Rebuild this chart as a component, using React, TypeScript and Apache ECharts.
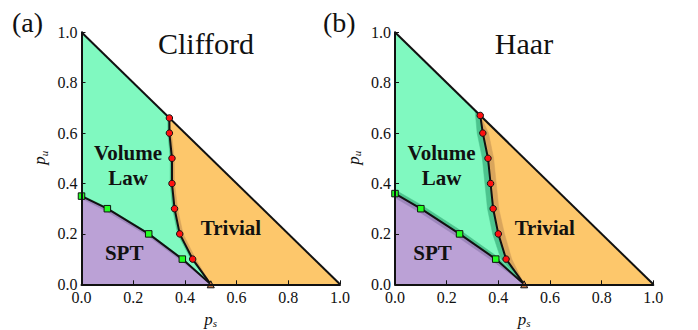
import React, { useEffect, useRef } from "react";
import * as echarts from "echarts";

// ---- panel text ----
const panelTitles = ["Clifford", "Haar"];
const panelTags = ["(a)", "(b)"];
const phaseNames = ["Volume\nLaw", "SPT", "Trivial"];

// ---- axis ticks (shared by both panels) ----
const tickMin = 0;
const tickMax = 1;
const tickStep = 0.2;
const tickValues = [0, 0.2, 0.4, 0.6, 0.8, 1.0];

// ---- Clifford: volume-law / trivial transition (red circles) ----
const cliffTransPs = [0.34, 0.34, 0.35, 0.35, 0.36, 0.38, 0.43];
const cliffTransPu = [0.66, 0.6, 0.5, 0.4, 0.3, 0.2, 0.1];
// uncertainty band edges around that transition
const cliffTransLeftPs = [0.334, 0.334, 0.343, 0.343, 0.352, 0.372, 0.423];
const cliffTransLeftPu = [0.666, 0.6, 0.5, 0.4, 0.3, 0.2, 0.1];
const cliffTransRightPs = [0.34, 0.348, 0.359, 0.36, 0.372, 0.393, 0.442];
const cliffTransRightPu = [0.66, 0.6, 0.5, 0.4, 0.3, 0.2, 0.1];
// ---- Clifford: volume-law / SPT transition (green squares) ----
const cliffSptPs = [0.0, 0.1, 0.26, 0.39];
const cliffSptPu = [0.35, 0.3, 0.2, 0.1];
const cliffSptUpperPu = [0.354, 0.304, 0.204, 0.104];
const cliffSptLowerPu = [0.34, 0.288, 0.19, 0.09];

// ---- Haar: volume-law / trivial transition ----
const haarTransPs = [0.33, 0.34, 0.36, 0.37, 0.38, 0.4, 0.43];
const haarTransPu = [0.67, 0.6, 0.5, 0.4, 0.3, 0.2, 0.1];
const haarTransLeftPs = [0.31, 0.318, 0.338, 0.348, 0.358, 0.378, 0.41];
const haarTransLeftPu = [0.69, 0.6, 0.5, 0.4, 0.3, 0.2, 0.1];
const haarTransRightPs = [0.33, 0.362, 0.382, 0.392, 0.402, 0.424, 0.452];
const haarTransRightPu = [0.67, 0.6, 0.5, 0.4, 0.3, 0.2, 0.1];
// ---- Haar: volume-law / SPT transition ----
const haarSptPs = [0.0, 0.1, 0.25, 0.39];
const haarSptPu = [0.36, 0.3, 0.2, 0.1];
const haarSptUpperPu = [0.375, 0.316, 0.216, 0.114];
const haarSptLowerPu = [0.343, 0.283, 0.183, 0.084];

// ---- shared corners of the physical triangle p_s + p_u <= 1 ----
const criticalPoint: [number, number] = [0.5, 0];
const cornerTop: [number, number] = [0, 1];
const cornerRight: [number, number] = [1, 0];
const cornerOrigin: [number, number] = [0, 0];

// phase-label anchor points [p_s, p_u] per panel
const labelPosA = [[0.18, 0.47], [0.165, 0.124], [0.578, 0.223]];
const labelPosB = [[0.18, 0.47], [0.145, 0.124], [0.58, 0.223]];

const COLORS = {
  volume: "#80f9c0",
  trivial: "#fdc76b",
  spt: "#bba1d6",
  volumeDark: "#4cc48e",
  trivialDark: "#d9a55c",
  sptDark: "#9c86bb",
  red: "#ff1010",
  green: "#22ff22",
  brown: "#c97a4a",
  ink: "#111111",
};

const SERIF = "'Liberation Serif', 'DejaVu Serif', serif";

type Pt = [number, number];
const zip = (xs: number[], ys: number[]): Pt[] => xs.map((x, i) => [x, ys[i]] as Pt);

function polygon(idx: number, pts: Pt[], color: string, z: number) {
  return {
    type: "custom",
    xAxisIndex: idx,
    yAxisIndex: idx,
    z,
    silent: true,
    clip: false,
    data: [[0, 0]],
    renderItem: (_p: any, api: any) => ({
      type: "polygon",
      shape: { points: pts.map((p) => api.coord(p)) },
      style: { fill: color, stroke: color, lineWidth: 0.5 },
    }),
  };
}

function line(idx: number, pts: Pt[], z: number) {
  return {
    type: "line",
    xAxisIndex: idx,
    yAxisIndex: idx,
    z,
    silent: true,
    showSymbol: false,
    symbol: "none",
    data: pts,
    lineStyle: { color: COLORS.ink, width: 2 },
  };
}

function markers(idx: number, pts: Pt[], symbol: string, color: string, size: number, z: number) {
  return {
    type: "scatter",
    xAxisIndex: idx,
    yAxisIndex: idx,
    z,
    silent: true,
    clip: false,
    symbol,
    symbolSize: size,
    data: pts,
    itemStyle: { color, borderColor: COLORS.ink, borderWidth: 1, opacity: 1 },
  };
}

// phase names drawn as text elements at data coordinates
function phaseLabels(idx: number, labelPos: number[][]) {
  return {
    type: "custom",
    xAxisIndex: idx,
    yAxisIndex: idx,
    z: 5,
    silent: true,
    clip: false,
    data: labelPos,
    renderItem: (params: any, api: any) => {
      const c = api.coord([api.value(0), api.value(1)]);
      return {
        type: "text",
        x: c[0],
        y: c[1],
        style: {
          text: phaseNames[params.dataIndex],
          font: `bold 21px ${SERIF}`,
          lineHeight: 25,
          fill: COLORS.ink,
          align: "center",
          verticalAlign: "middle",
        },
      };
    },
  };
}

// tick labels placed at the axis scale positions of tickValues
function tickLabels(idx: number, dim: "x" | "y") {
  return {
    type: "custom",
    xAxisIndex: idx,
    yAxisIndex: idx,
    z: 11,
    silent: true,
    clip: false,
    data: tickValues.map((v) => (dim === "x" ? [v, tickMin] : [tickMin, v])),
    renderItem: (params: any, api: any) => {
      const c = api.coord([api.value(0), api.value(1)]);
      return {
        type: "text",
        x: dim === "x" ? c[0] : c[0] - 4,
        y: dim === "x" ? c[1] + 13 : c[1],
        style: {
          text: tickValues[params.dataIndex].toFixed(1),
          font: `16px ${SERIF}`,
          fill: COLORS.ink,
          align: dim === "x" ? "center" : "right",
          verticalAlign: "middle",
        },
      };
    },
  };
}

// italic axis symbol with a subscript, e.g. p_s
function axisTitle(idx: number, dim: "x" | "y", sub: string) {
  return {
    type: "custom",
    xAxisIndex: idx,
    yAxisIndex: idx,
    z: 11,
    silent: true,
    clip: false,
    data: [dim === "x" ? [(tickMin + tickMax) / 2, tickMin] : [tickMin, (tickMin + tickMax) / 2]],
    renderItem: (_p: any, api: any) => {
      const c = api.coord([api.value(0), api.value(1)]);
      return {
        type: "group",
        x: dim === "x" ? c[0] : c[0] - 42,
        y: dim === "x" ? c[1] + 35 : c[1],
        rotation: dim === "x" ? 0 : Math.PI / 2,
        children: [
          {
            type: "text",
            x: -6.5,
            y: 0,
            style: { text: "p", font: `italic 17px ${SERIF}`, fill: COLORS.ink, align: "left", verticalAlign: "middle" },
          },
          {
            type: "text",
            x: 2,
            y: 4,
            style: { text: sub, font: `italic 11px ${SERIF}`, fill: COLORS.ink, align: "left", verticalAlign: "middle" },
          },
        ],
      };
    },
  };
}

function panelSeries(
  idx: number,
  trans: Pt[],
  transLeft: Pt[],
  transRight: Pt[],
  spt: Pt[],
  sptUpper: Pt[],
  sptLower: Pt[],
  labelPos: number[][]
) {
  const transFull = [...trans, criticalPoint];
  const sptFull = [...spt, criticalPoint];
  const volume = [cornerTop, ...transFull, ...[...spt].reverse()];
  const trivial = [trans[0], cornerRight, ...[...transFull].reverse()];
  const sptRegion = [...sptFull, cornerOrigin];
  return [
    polygon(idx, volume, COLORS.volume, 1),
    polygon(idx, trivial, COLORS.trivial, 1),
    polygon(idx, sptRegion, COLORS.spt, 1),
    polygon(idx, [...transFull, ...[...transLeft].reverse()], COLORS.volumeDark, 2),
    polygon(idx, [...transFull, ...[...transRight].reverse()], COLORS.trivialDark, 2),
    polygon(idx, [...sptFull, ...[...sptUpper].reverse()], COLORS.volumeDark, 2),
    polygon(idx, [...sptFull, ...[...sptLower].reverse()], COLORS.sptDark, 2),
    line(idx, [cornerTop, cornerRight], 3),
    line(idx, transFull, 3),
    line(idx, sptFull, 3),
    markers(idx, trans, "circle", COLORS.red, 6.5, 4),
    markers(idx, spt, "rect", COLORS.green, 6.5, 4),
    markers(idx, [criticalPoint], "triangle", COLORS.brown, 7, 4),
    phaseLabels(idx, labelPos),
    tickLabels(idx, "x"),
    tickLabels(idx, "y"),
    axisTitle(idx, "x", "s"),
    axisTitle(idx, "y", "u"),
  ];
}

function valueAxis(idx: number) {
  return {
    type: "value",
    gridIndex: idx,
    min: tickMin,
    max: tickMax,
    interval: tickStep,
    z: 10,
    axisLine: { show: true, onZero: false, lineStyle: { color: COLORS.ink, width: 2 } },
    axisTick: { show: true, inside: true, length: 4, lineStyle: { color: COLORS.ink, width: 1 } },
    splitLine: { show: false },
    axisLabel: { show: false },
  };
}

export default function App() {
  const ref = useRef<HTMLDivElement>(null);
  useEffect(() => {
    if (!ref.current) return;
    const chart = echarts.init(ref.current, undefined, { renderer: "svg" });
    chart.setOption({
      animation: false,
      backgroundColor: "#ffffff",
      grid: [
        { left: 81.5, top: 32.3, width: 258.5, height: 252, outerBoundsMode: "none", containLabel: false },
        { left: 395, top: 32.3, width: 258.3, height: 252, outerBoundsMode: "none", containLabel: false },
      ],
      xAxis: [valueAxis(0), valueAxis(1)],
      yAxis: [valueAxis(0), valueAxis(1)],
      graphic: [
        {
          type: "text", x: 12, y: 22,
          style: { text: panelTags[0], font: `28px ${SERIF}`, fill: COLORS.ink, textVerticalAlign: "middle" },
        },
        {
          type: "text", x: 323, y: 22,
          style: { text: panelTags[1], font: `28px ${SERIF}`, fill: COLORS.ink, textVerticalAlign: "middle" },
        },
        {
          type: "text", x: 206, y: 43,
          style: { text: panelTitles[0], font: `30px ${SERIF}`, fill: COLORS.ink, textAlign: "center", textVerticalAlign: "middle" },
        },
        {
          type: "text", x: 524, y: 43,
          style: { text: panelTitles[1], font: `30px ${SERIF}`, fill: COLORS.ink, textAlign: "center", textVerticalAlign: "middle" },
        },
      ],
      series: [
        ...panelSeries(
          0,
          zip(cliffTransPs, cliffTransPu),
          zip(cliffTransLeftPs, cliffTransLeftPu),
          zip(cliffTransRightPs, cliffTransRightPu),
          zip(cliffSptPs, cliffSptPu),
          zip(cliffSptPs, cliffSptUpperPu),
          zip(cliffSptPs, cliffSptLowerPu),
          labelPosA
        ),
        ...panelSeries(
          1,
          zip(haarTransPs, haarTransPu),
          zip(haarTransLeftPs, haarTransLeftPu),
          zip(haarTransRightPs, haarTransRightPu),
          zip(haarSptPs, haarSptPu),
          zip(haarSptPs, haarSptUpperPu),
          zip(haarSptPs, haarSptLowerPu),
          labelPosB
        ),
      ],
    });
    return () => chart.dispose();
  }, []);
  return (
    <div
      ref={ref}
      style={{ position: "fixed", left: 0, top: 0, width: 698, height: 330, background: "#fff" }}
    />
  );
}
